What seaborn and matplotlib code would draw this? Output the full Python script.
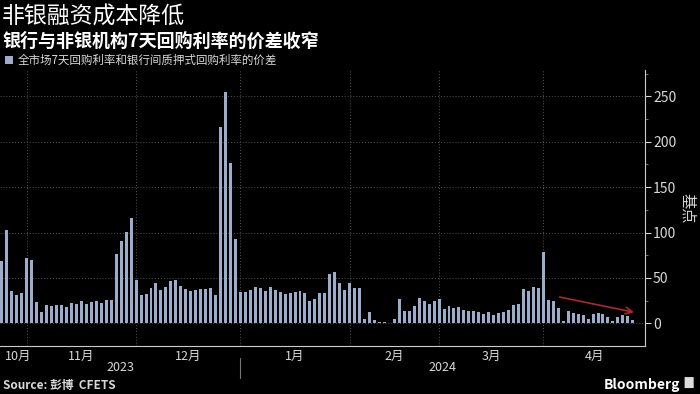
import pandas as pd
import numpy as np
import matplotlib.pyplot as plt
import matplotlib.transforms as mtransforms
from matplotlib.patches import FancyBboxPatch
import seaborn as sns

# spread in bp, one value per trading day (25 Oct 2023 - end of Apr 2024)
oct_vals = [69, 103, 36, 31, 33]
nov_vals = [72, 70, 23, 12, 20, 19, 20, 20, 18, 22, 21, 24, 21, 23, 24, 22, 26, 26, 76, 91, 101, 116]
dec_vals = [48, 31, 32, 39, 44, 37, 40, 47, 48, 41, 38, 36, 37, 38, 38, 39, 31, 216, 255, 177, 93]
jan_vals = [34, 34, 37, 40, 39, 35, 40, 37, 34, 32, 33, 34, 35, 33, 25, 27, 33, 33, 54, 56, 44, 37]
feb_vals = [44, 39, 39, 5, 12, 4, 1, 1, 0.5, 5, 27, 13, 14, 19, 28, 25, 21, 24]
mar_vals = [27, 16, 19, 17, 18, 15, 13, 13, 12, 10, 12, 9, 11, 12, 15, 20, 21, 38, 36, 40, 39]
apr_vals = [79, 26, 25, 17, 2, 14, 11, 10, 9, 5, 10, 11, 10, 7, 3, 7, 9, 8, 4]

month_names = ['10月', '11月', '12月', '1月', '2月', '3月', '4月']
years = ['2023', '2024']
months = [oct_vals, nov_vals, dec_vals, jan_vals, feb_vals, mar_vals, apr_vals]

spread = sum(months, [])
df = pd.DataFrame({'day': range(len(spread)), 'spread': spread})

BG = '#000000'
BAR = '#9aadcb'
TXT = '#d9d9d9'
FONTS = ['Noto Sans CJK SC', 'DejaVu Sans']

sns.set_theme(style='dark')
plt.rcParams['font.family'] = FONTS
plt.rcParams['axes.unicode_minus'] = False

fig = plt.figure(figsize=(7, 3.94), dpi=100, facecolor=BG)
ax = fig.add_axes([0.0, 0.122, 0.921, 0.700])
ax.set_facecolor(BG)

sns.barplot(data=df, x='day', y='spread', color=BAR, width=0.6, saturation=1,
            linewidth=0, edgecolor='none', ax=ax,
            label='全市场7天回购利率和银行间质押式回购利率的价差')

# month boundaries
starts = np.cumsum([0] + [len(m) for m in months])[:-1]
left, right = -0.4, 129.4
ax.set_xlim(left, right)
ax.set_ylim(-25, 279)

ax.set_xticks(starts[1:])
ax.set_xticklabels([])
edges = [1.5] + list(starts[1:]) + [right]
mids = [(edges[i] + edges[i + 1]) / 2 for i in range(len(month_names))]
ax.set_xticks(mids, minor=True)
ax.set_xticklabels(month_names, minor=True, color=TXT, fontsize=9)
ax.tick_params(axis='x', which='both', length=0, pad=3)

ax.yaxis.tick_right()
ax.yaxis.set_label_position('right')
ax.set_yticks([0, 50, 100, 150, 200, 250])
ax.set_yticks([25, 75, 125, 175, 225, 275], minor=True)
ax.tick_params(axis='y', which='major', colors=TXT, labelsize=10, length=4, width=0.8, pad=2)
ax.tick_params(axis='y', which='minor', colors='#888888', length=2, width=0.6)
ax.set_ylabel('基点', color=TXT, fontsize=11, rotation=270, labelpad=14)
ax.set_xlabel('')

ax.grid(True, which='major', color='#555555', linestyle=(0, (1, 2)), linewidth=0.7)
ax.set_axisbelow(True)
for side in ['top', 'left']:
    ax.spines[side].set_visible(False)
ax.spines['right'].set_color('#cccccc')
ax.spines['bottom'].set_color('#cccccc')
ax.spines['right'].set_linewidth(0.8)
ax.spines['bottom'].set_linewidth(0.8)

# year row
trans = mtransforms.blended_transform_factory(ax.transData, ax.transAxes)
jan_start = starts[3]
ax.text((left + jan_start) / 2, -0.08, years[0], transform=trans, ha='center', va='center',
        color=TXT, fontsize=9)
ax.text((jan_start + right) / 2, -0.08, years[1], transform=trans, ha='center', va='center',
        color=TXT, fontsize=9)
ax.plot([jan_start, jan_start], [-0.045, -0.115], transform=trans, color='#777777',
        linewidth=0.8, clip_on=False)

# trend arrow
ax.annotate('', xy=(127.8, 11.5), xytext=(111.7, 29.5),
            arrowprops=dict(arrowstyle='->', color='#b02828', lw=1.2))

if ax.legend_:
    ax.legend_.remove()
handles, labels = ax.get_legend_handles_labels()
fig.legend(handles, labels, loc='upper left', bbox_to_anchor=(0.0, 0.875), frameon=False,
           fontsize=8.3, labelcolor=TXT, handlelength=0.7, handleheight=0.7, handletextpad=0.4,
           borderaxespad=0)

fig.text(0.003, 0.985, '非银融资成本降低', color='white', fontsize=16.5, va='top', ha='left')
fig.text(0.003, 0.92, '银行与非银机构7天回购利率的价差收窄', color='white', fontsize=13,
         fontweight='bold', va='top', ha='left')
fig.text(0.004, 0.004, 'Source: 彭博  CFETS', color=TXT, fontsize=8.5, fontweight='bold',
         va='bottom', ha='left')
fig.text(0.972, 0.006, 'Bloomberg', color='white', fontsize=10, fontweight='bold',
         va='bottom', ha='right')
fig.patches.append(FancyBboxPatch((0.979, 0.016), 0.011, 0.026, boxstyle='round,pad=0.001',
                                  transform=fig.transFigure, facecolor='#dddddd',
                                  edgecolor='none'))

fig.savefig('out.png', dpi=100, facecolor=BG)
